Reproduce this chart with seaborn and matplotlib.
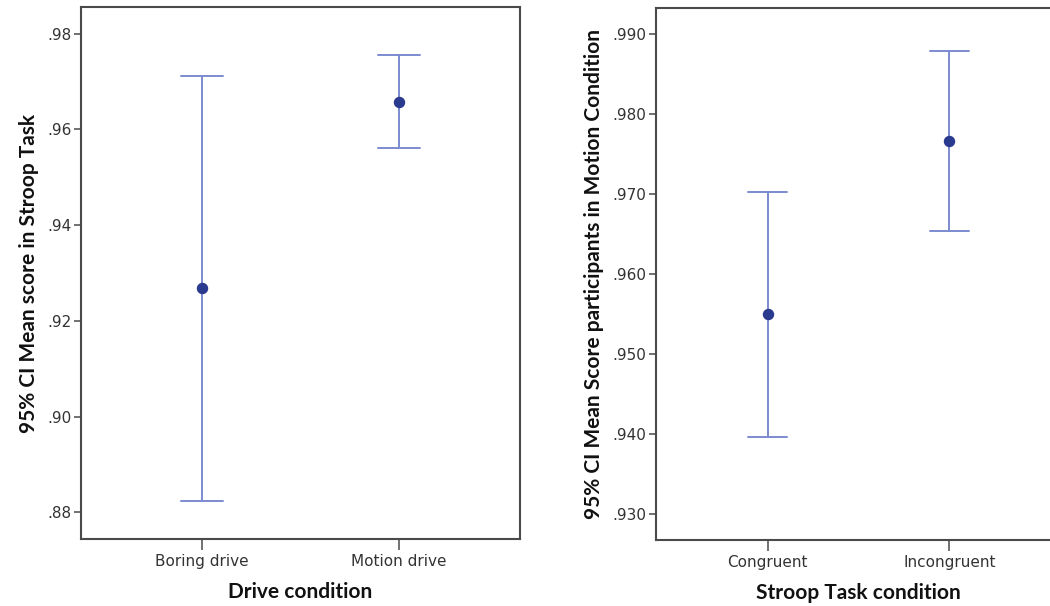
import matplotlib
matplotlib.use("Agg")
import matplotlib.pyplot as plt
import seaborn as sns
import pandas as pd
from matplotlib.ticker import FuncFormatter

sns.set_theme(style="white")
plt.rcParams['font.family'] = ['DejaVu Sans']

# Left panel data
drive_cats = ["Boring drive", "Motion drive"]
drive_lower = [0.8824, 0.9562]
drive_mean = [0.9268, 0.9658]
drive_upper = [0.9712, 0.9755]

# Right panel data
stroop_cats = ["Congruent", "Incongruent"]
stroop_lower = [0.9396, 0.9654]
stroop_mean = [0.9550, 0.9766]
stroop_upper = [0.9703, 0.9879]

line_color = "#7B8BD0"
marker_color = "#2A3A8E"
axis_color = "#4a4a4a"
tick_font = "DejaVu Sans"
label_font = "Lato"


def long_df(cats, lo, mid, hi):
    rows = []
    for c, a, m, b in zip(cats, lo, mid, hi):
        for v in (a, m, b):
            rows.append({"cat": c, "val": v})
    return pd.DataFrame(rows)


def fmt_factory(nd):
    def f(v, pos):
        s = f"{v:.{nd}f}"
        return s[1:] if s.startswith("0") else s
    return FuncFormatter(f)


fig = plt.figure(figsize=(10.5, 6.06), dpi=100)
ax1 = fig.add_axes([81 / 1050, 67 / 606, 439 / 1050, 532 / 606])
ax2 = fig.add_axes([656 / 1050, 66 / 606, 405 / 1050, 532 / 606])


def draw(ax, cats, lo, mid, hi, ylim, yticks, nd, xlabel, ylabel):
    df = long_df(cats, lo, mid, hi)
    sns.pointplot(data=df, x="cat", y="val", order=cats, estimator="median",
                  errorbar=("pi", 100), linestyle="none", capsize=0.21,
                  color=line_color, err_kws={"linewidth": 1.4, "color": line_color},
                  markers="o", markersize=6.2, ax=ax)
    for ln in ax.lines:
        if ln.get_marker() not in (None, "None", "", " "):
            ln.set_markerfacecolor(marker_color)
            ln.set_markeredgecolor(marker_color)
            ln.set_zorder(5)
    ax.set_xlim(-0.613, 1.613)
    ax.set_ylim(*ylim)
    ax.set_yticks(yticks)
    ax.yaxis.set_major_formatter(fmt_factory(nd))
    for s in ax.spines.values():
        s.set_color(axis_color)
        s.set_linewidth(1.5)
    ax.tick_params(axis="y", direction="out", length=5, width=1.1, color=axis_color,
                   labelsize=11, labelcolor="#333333", pad=2, left=True)
    ax.tick_params(axis="x", direction="out", length=8, width=1.1, color=axis_color,
                   labelsize=11, labelcolor="#333333", pad=3, bottom=True)
    for t in ax.get_xticklabels() + ax.get_yticklabels():
        t.set_fontfamily(tick_font)
    ax.set_xlabel(xlabel, fontsize=15, fontweight="bold", family=label_font,
                  color="#111111", labelpad=9)
    ax.set_ylabel(ylabel, fontsize=15, fontweight="bold", family=label_font,
                  color="#111111", labelpad=6)


draw(ax1, drive_cats, drive_lower, drive_mean, drive_upper,
     (0.8744, 0.9856), [0.88, 0.90, 0.92, 0.94, 0.96, 0.98], 2,
     "Drive condition", "95% CI Mean score in Stroop Task")
draw(ax2, stroop_cats, stroop_lower, stroop_mean, stroop_upper,
     (0.92675, 0.9933), [0.93, 0.94, 0.95, 0.96, 0.97, 0.98, 0.99], 3,
     "Stroop Task condition", "95% CI Mean Score participants in Motion Condition")
ax2.spines["right"].set_visible(False)

fig.savefig("out.png", dpi=100)
